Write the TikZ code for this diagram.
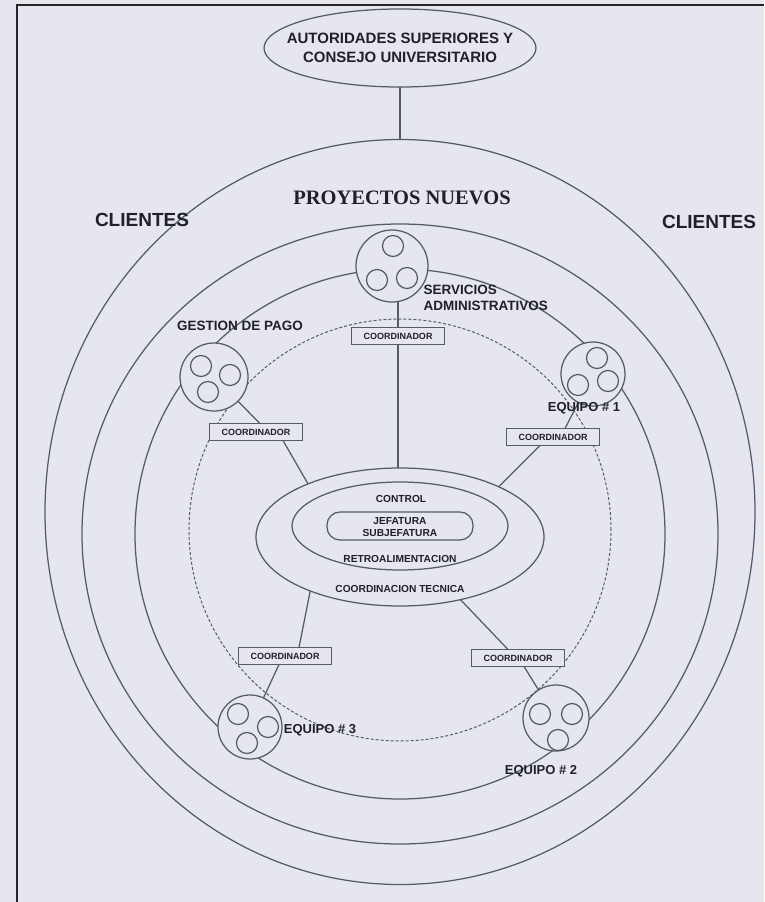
\documentclass[tikz,border=0pt]{standalone}
\usepackage{fontspec}
\setmainfont{Liberation Sans}
\newfontfamily\titleserif{Liberation Serif}
\usetikzlibrary{shapes.geometric,calc}
\definecolor{paper}{HTML}{E6E6EE}
\definecolor{ink}{HTML}{555B6A}
\definecolor{txt}{HTML}{202028}
\newcommand{\fsz}[1]{\fontsize{#1}{#1}\selectfont}
\begin{document}
\begin{tikzpicture}[x=1pt,y=-1pt,color=ink,line width=1.25pt,
  ring/.style 2 args={ellipse,draw,inner sep=0pt,outer sep=0pt,minimum width=#1,minimum height=#2},
  team/.style={circle,draw,fill=paper,inner sep=0pt,outer sep=0pt,minimum size=#1},
  member/.style={circle,draw,inner sep=0pt,minimum size=21pt},
  coordbox/.style={rectangle,draw,fill=paper,inner sep=0pt,outer sep=0pt,minimum width=93pt,minimum height=17pt,text=txt,font=\bfseries\fsz{9}},
  lbl/.style={text=txt,font=\bfseries\fsz{#1},inner sep=0pt,align=left},
  inner/.style={text=txt,font=\bfseries\fsz{10.2},inner sep=0pt,align=center}]
\useasboundingbox (0,0) rectangle (764,902);
\fill[paper] (0,0) rectangle (764,902);
% frame
\draw[black!85,line width=1.6pt] (17,902) -- (17,5) -- (764,5);

% governing body
\node[ring={272pt}{78pt}] (auth) at (400,48) {};
\node[text=txt,font=\bfseries\fsz{15},align=center,inner sep=0pt] (tauth) at (auth.center)
  {AUTORIDADES SUPERIORES Y\\[4pt]CONSEJO UNIVERSITARIO};

% concentric rings
\node[ring={710pt}{745pt}] (outer) at (400,512) {};
\node[ring={636pt}{620pt}] (second) at (400,534) {};
\node[ring={530pt}{530pt}] (third) at (400,534) {};
\node[ring={422pt}{422pt},dash pattern=on 3pt off 2pt,line width=1pt] (dash) at (400,530) {};
\draw (auth.south) -- (outer.north);

% core
\node[ring={288pt}{138pt}] (ctrl) at (400,537) {};
\node[ring={216pt}{88pt}] (mid) at (400,526) {};
\node[draw,rounded corners=13pt,minimum width=146pt,minimum height=28pt,inner sep=0pt] (jef) at (400,526) {};
\node[inner] (tcontrol) at (401,499) {CONTROL};
\node[inner,align=center] (tjef) at (400,527) {JEFATURA\\[2.5pt]SUBJEFATURA};
\node[inner] (tretro) at (400,559) {RETROALIMENTACION};
\node[inner] (ttec) at (400,589) {COORDINACION TECNICA};

% coordinator boxes
\node[coordbox] (c1) at (398,336) {COORDINADOR};
\node[coordbox] (c2) at (256,432) {COORDINADOR};
\node[coordbox] (c3) at (553,437) {COORDINADOR};
\node[coordbox] (c4) at (285,656) {COORDINADOR};
\node[coordbox] (c5) at (518,658) {COORDINADOR};

% working groups
\node[team=72pt] (serv) at (392,266) {};
\node[member] (s1) at (393,246) {};
\node[member] (s2) at (377,280) {};
\node[member] (s3) at (407,278) {};

\node[team=68pt] (gest) at (214,377) {};
\node[member] (g1) at (201,366) {};
\node[member] (g2) at (230,375) {};
\node[member] (g3) at (208,392) {};

\node[team=64pt] (eq1) at (593,374) {};
\node[member] (e11) at (597,358) {};
\node[member] (e12) at (578,385) {};
\node[member] (e13) at (608,381) {};

\node[team=64pt] (eq3) at (250,727) {};
\node[member] (e31) at (238,714) {};
\node[member] (e32) at (268,727) {};
\node[member] (e33) at (247,743) {};

\node[team=66pt] (eq2) at (556,718) {};
\node[member] (e21) at (540,714) {};
\node[member] (e22) at (572,714) {};
\node[member] (e23) at (558,740) {};

% links
\draw (c1.north) -- (c1.north |- serv.south);
\draw (c1.south) -- (c1.south |- ctrl.north);
\draw (gest) -- ([xshift=4pt]c2.north);
\draw ([xshift=27pt]c2.south) -- (ctrl.150);
\draw (eq1) -- ([xshift=12pt]c3.north);
\draw ([xshift=-13pt]c3.south) -- (ctrl.27);
\draw (ctrl.211) -- ([xshift=14pt]c4.north);
\draw ([xshift=-6pt]c4.south) -- (eq3);
\draw (ctrl.314) -- ([xshift=-10pt]c5.north);
\draw ([xshift=6pt]c5.south) -- (eq2);

% labels
\node[lbl=19] (cl1) at (142,220) {CLIENTES};
\node[lbl=19] (cl2) at (709,222) {CLIENTES};
\node[text=txt,font=\titleserif\bfseries\fsz{20.5},inner sep=0pt] (proy) at (402,198) {PROYECTOS NUEVOS};
\node[lbl=13.5,anchor=west,align=left] (tserv) at (423,298) {SERVICIOS\\[3pt]ADMINISTRATIVOS};
\node[lbl=13.5] (tgest) at (240,326) {GESTION DE PAGO};
\node[lbl=13] (teq1) at (584,408) {EQUIPO \# 1};
\node[lbl=13] (teq3) at (320,730) {EQUIPO \# 3};
\node[lbl=13] (teq2) at (541,771) {EQUIPO \# 2};
\end{tikzpicture}
\end{document}
